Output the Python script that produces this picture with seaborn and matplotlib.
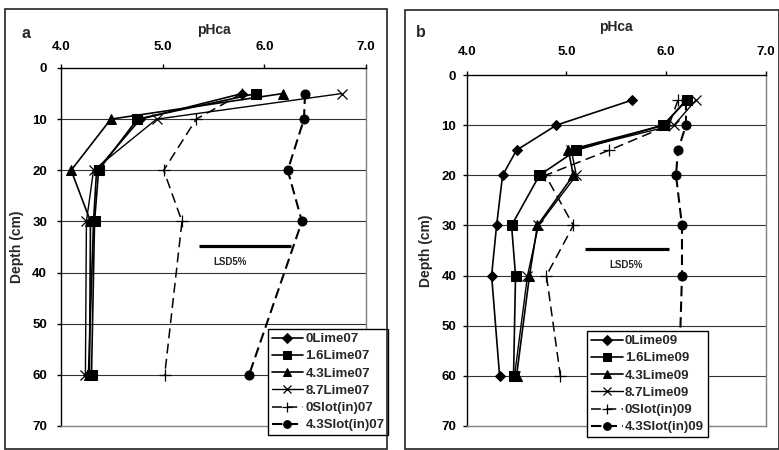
import numpy as np
import pandas as pd
import seaborn as sns
import matplotlib.pyplot as plt
from matplotlib.patches import Rectangle

# pHca depth profiles, panel a = 2007, panel b = 2009
depth_a = [5, 10, 20, 30, 60]
lime0_07 = [5.78, 4.78, 4.35, 4.32, 4.27]
lime16_07 = [5.92, 4.75, 4.37, 4.33, 4.30]
lime43_07 = [6.18, 4.49, 4.10, 4.29, 4.28]
lime87_07 = [6.76, 4.94, 4.32, 4.25, 4.24]
slot0_07 = [5.78, 5.33, 5.01, 5.19, 5.02]
slot43_07 = [6.40, 6.39, 6.23, 6.37, 5.85]

depth_b = [5, 10, 15, 20, 30, 40, 60]
lime0_09 = [5.66, 4.90, 4.50, 4.36, 4.30, 4.25, 4.33]
lime16_09 = [6.21, 5.97, 5.10, 4.73, 4.45, 4.49, 4.47]
lime43_09 = [6.20, 5.98, 5.02, 5.07, 4.71, 4.63, 4.50]
lime87_09 = [6.30, 6.08, 5.05, 5.10, 4.72, 4.61, 4.48]
slot0_09 = [6.12, 6.03, 5.43, 4.79, 5.07, 4.80, 4.94]
slot43_09 = [6.20, 6.20, 6.12, 6.10, 6.16, 6.16, 6.13]

names_a = ['0Lime07', '1.6Lime07', '4.3Lime07', '8.7Lime07', '0Slot(in)07', '4.3Slot(in)07']
names_b = ['0Lime09', '1.6Lime09', '4.3Lime09', '8.7Lime09', '0Slot(in)09', '4.3Slot(in)09']

# LSD bar: (pH start, pH end, depth)
lsd_a = [5.36, 6.26, 34.8]
lsd_b = [5.19, 6.03, 34.7]

ph_ticks = [4.0, 5.0, 6.0, 7.0]
depth_ticks = [0, 10, 20, 30, 40, 50, 60, 70]

sns.set_style('white')
plt.rcParams['font.family'] = ['Liberation Sans', 'DejaVu Sans']
plt.rcParams['font.weight'] = 'bold'

styles = [
    dict(marker='D', markersize=5.5, linestyle='-', linewidth=1.2),
    dict(marker='s', markersize=6.5, linestyle='-', linewidth=1.2),
    dict(marker='^', markersize=7, linestyle='-', linewidth=1.2),
    dict(marker='x', markersize=7, linestyle='-', linewidth=1.0, markeredgewidth=0.9),
    dict(marker='+', markersize=8, linestyle=(0, (6.5, 3.5)), linewidth=1.1, markeredgewidth=0.9),
    dict(marker='o', markersize=6.5, linestyle=(0, (5, 2.5)), linewidth=1.5),
]

fig = plt.figure(figsize=(7.79, 4.5), dpi=100)

# outer chart frames
fig.patches.append(Rectangle((5 / 779, 1 / 450), 382 / 779, 440 / 450, transform=fig.transFigure,
                             fill=False, edgecolor='#222222', linewidth=1.2))
fig.patches.append(Rectangle((405 / 779, 1 / 450), 373.5 / 779, 439 / 450, transform=fig.transFigure,
                             fill=False, edgecolor='#222222', linewidth=1.2))

ax_a = fig.add_axes([61 / 779, 24 / 450, 305 / 779, 358 / 450])
ax_b = fig.add_axes([466.7 / 779, 24 / 450, 299 / 779, 351 / 450])

panels = [
    (ax_a, depth_a, [lime0_07, lime16_07, lime43_07, lime87_07, slot0_07, slot43_07], names_a, lsd_a,
     'a', (25.7, 33), (267.7, 329), 7, 7.5, 5.5, 5.66),
    (ax_b, depth_b, [lime0_09, lime16_09, lime43_09, lime87_09, slot0_09, slot43_09], names_b, lsd_b,
     'b', (421, 32.5), (587.3, 331), 4.5, 9.5, 10.5, 5.60),
]

for ax, depth, series, names, lsd, tag, tag_xy, leg_xy, ypad, xpad, xlabpad, lsd_text_x in panels:
    for d in range(10, 70, 10):
        ax.axhline(d, color='#333333', linewidth=0.8, zorder=0)

    for vals, name, st in zip(series, names, styles):
        sns.lineplot(x=vals, y=depth, orient='y', sort=False, estimator=None, color='black',
                     markeredgecolor='black', label=name, ax=ax, **st)

    ax.plot([lsd[0], lsd[1]], [lsd[2], lsd[2]], color='black', linewidth=2.3, solid_capstyle='butt')
    ax.text(lsd_text_x, lsd[2] + 3.1, 'LSD5%', fontsize=7, fontweight='bold', ha='center', va='center')

    ax.set_xlim(4, 7)
    ax.set_ylim(70, 0)
    ax.xaxis.tick_top()
    ax.xaxis.set_label_position('top')
    ax.set_xticks(ph_ticks)
    ax.set_xticklabels([f'{v:.1f}' for v in ph_ticks], fontsize=9.5, fontweight='bold')
    ax.set_yticks(depth_ticks)
    ax.set_yticklabels([str(v) for v in depth_ticks], fontsize=9.5, fontweight='bold')
    ax.tick_params(axis='x', direction='out', length=3, width=1, pad=xpad, top=True, bottom=False, colors='black')
    ax.tick_params(axis='y', direction='out', length=3, width=1, pad=ypad, left=True, colors='black')
    ax.set_xlabel('pHca', fontsize=10, fontweight='bold', labelpad=xlabpad)
    ax.set_ylabel('Depth (cm)', fontsize=10, fontweight='bold', labelpad=6)

    for side in ['top', 'left']:
        ax.spines[side].set_color('black')
        ax.spines[side].set_linewidth(1.0)
    for side in ['right', 'bottom']:
        ax.spines[side].set_color('#808080')
        ax.spines[side].set_linewidth(1.0)
    ax.grid(False)

    leg = ax.legend(loc='upper left', bbox_to_anchor=(leg_xy[0] / 779, 1 - leg_xy[1] / 450),
                    bbox_transform=fig.transFigure, borderaxespad=0, fancybox=False, framealpha=1,
                    edgecolor='black', fontsize=9.5, handlelength=2.4, handletextpad=0.15,
                    labelspacing=0.38, borderpad=0.3, markerscale=0.85)
    leg.get_frame().set_linewidth(1.0)
    for t in leg.get_texts():
        t.set_fontweight('bold')

    fig.text(tag_xy[0] / 779, 1 - tag_xy[1] / 450, tag, fontsize=11.5, fontweight='bold',
             ha='center', va='center')

fig.savefig('out.png', dpi=100)
